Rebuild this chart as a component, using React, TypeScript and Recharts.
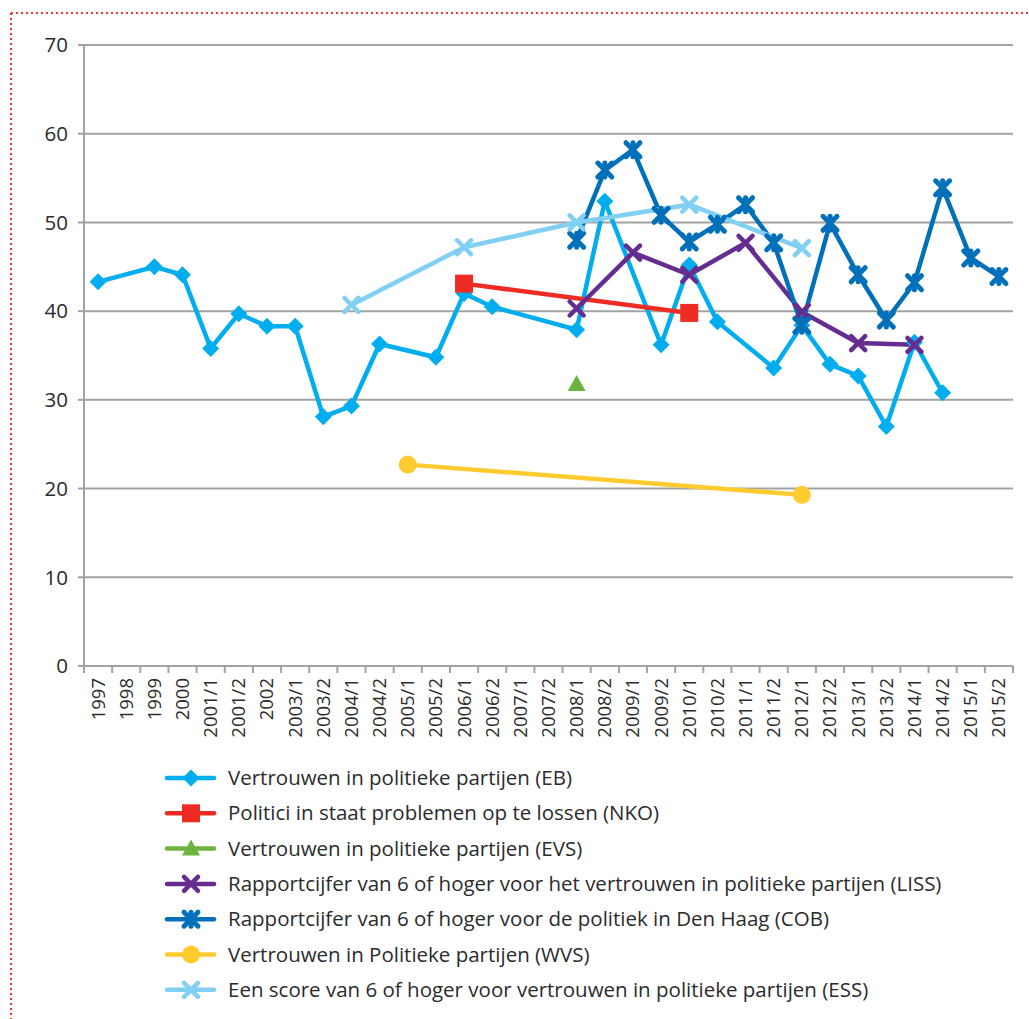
import { LineChart, Line, XAxis, YAxis, CartesianGrid } from "recharts";

// ─── DATA ────────────────────────────────────────────────────────────

const categories = [
  "1997", "1998", "1999", "2000", "2001/1", "2001/2", "2002", "2003/1",
  "2003/2", "2004/1", "2004/2", "2005/1", "2005/2", "2006/1", "2006/2",
  "2007/1", "2007/2", "2008/1", "2008/2", "2009/1", "2009/2", "2010/1",
  "2010/2", "2011/1", "2011/2", "2012/1", "2012/2", "2013/1", "2013/2",
  "2014/1", "2014/2", "2015/1", "2015/2",
];

const _ = null;

// Vertrouwen in politieke partijen (EB)
const ebValues = [
  43.3, _, 45.0, 44.1, 35.8, 39.7, 38.3, 38.3, 28.1, 29.3, 36.3, _, 34.8,
  42.0, 40.5, _, _, 37.9, 52.4, _, 36.2, 45.2, 38.8, _, 33.6, 38.4, 34.0,
  32.7, 27.0, 36.5, 30.8, _, _,
];

// Politici in staat problemen op te lossen (NKO)
const nkoValues = [
  _, _, _, _, _, _, _, _, _, _, _, _, _, 43.1, _, _, _, _, _, _, _, 39.8,
  _, _, _, _, _, _, _, _, _, _, _,
];

// Vertrouwen in politieke partijen (EVS)
const evsValues = [
  _, _, _, _, _, _, _, _, _, _, _, _, _, _, _, _, _, 31.8, _, _, _, _, _,
  _, _, _, _, _, _, _, _, _, _,
];

// Rapportcijfer ... vertrouwen in politieke partijen (LISS)
const lissValues = [
  _, _, _, _, _, _, _, _, _, _, _, _, _, _, _, _, _, 40.3, _, 46.6, _, 44.1,
  _, 47.7, _, 39.9, _, 36.4, _, 36.2, _, _, _,
];

// Rapportcijfer ... politiek in Den Haag (COB)
const cobValues = [
  _, _, _, _, _, _, _, _, _, _, _, _, _, _, _, _, _, 48.0, 55.9, 58.2, 50.8,
  47.8, 49.8, 52.0, 47.7, 38.4, 49.9, 44.1, 39.0, 43.2, 53.9, 46.0, 43.9,
];

// Vertrouwen in Politieke partijen (WVS)
const wvsValues = [
  _, _, _, _, _, _, _, _, _, _, _, 22.7, _, _, _, _, _, _, _, _, _, _, _, _,
  _, 19.3, _, _, _, _, _, _, _,
];

// Een score van 6 of hoger ... (ESS)
const essValues = [
  _, _, _, _, _, _, _, _, _, 40.7, _, _, _, 47.2, _, _, _, 50.0, _, _, _,
  52.0, _, _, _, 47.1, _, _, _, _, _, _, _,
];

const yTicks = [0, 10, 20, 30, 40, 50, 60, 70];

type MarkerKind = "diamond" | "square" | "triangle" | "cross" | "star" | "circle";

const series: { key: string; name: string; color: string; marker: MarkerKind; values: (number | null)[] }[] = [
  { key: "eb", name: "Vertrouwen in politieke partijen (EB)", color: "#00AEEF", marker: "diamond", values: ebValues },
  { key: "nko", name: "Politici in staat problemen op te lossen (NKO)", color: "#EE2C24", marker: "square", values: nkoValues },
  { key: "evs", name: "Vertrouwen in politieke partijen (EVS)", color: "#6DB33F", marker: "triangle", values: evsValues },
  { key: "liss", name: "Rapportcijfer van 6 of hoger voor het vertrouwen in politieke partijen (LISS)", color: "#662D91", marker: "cross", values: lissValues },
  { key: "cob", name: "Rapportcijfer van 6 of hoger voor de politiek in Den Haag (COB)", color: "#0070BA", marker: "star", values: cobValues },
  { key: "wvs", name: "Vertrouwen in Politieke partijen (WVS)", color: "#FFCB2F", marker: "circle", values: wvsValues },
  { key: "ess", name: "Een score van 6 of hoger voor vertrouwen in politieke partijen (ESS)", color: "#81D0F4", marker: "cross", values: essValues },
];

const chartData = categories.map((c, i) => {
  const row: Record<string, string | number | null> = { cat: c };
  series.forEach((s) => (row[s.key] = s.values[i]));
  return row;
});

// ─── LAYOUT ──────────────────────────────────────────────────────────

const W = 1029;
const H = 1019;
const PLOT_LEFT = 84;
const PLOT_RIGHT = 1013;
const HALF_BAND = (PLOT_RIGHT - PLOT_LEFT) / categories.length / 2;
const GRAY = "#A2A2A2";
const TEXT = "#2B2B2B";
const FONT = "'Open Sans', sans-serif";

function Marker({ kind, cx, cy, color }: { kind: MarkerKind; cx: number; cy: number; color: string }) {
  switch (kind) {
    case "diamond":
      return <path d={`M${cx},${cy - 8.5}L${cx + 8.5},${cy}L${cx},${cy + 8.5}L${cx - 8.5},${cy}Z`} fill={color} />;
    case "square":
      return <rect x={cx - 9} y={cy - 9} width={18} height={18} fill={color} />;
    case "triangle":
      return <path d={`M${cx},${cy - 9}L${cx + 9},${cy + 7}L${cx - 9},${cy + 7}Z`} fill={color} />;
    case "circle":
      return <circle cx={cx} cy={cy} r={9} fill={color} />;
    case "cross":
    case "star":
      return (
        <g stroke={color} strokeWidth={kind === "star" ? 5 : 4.5} strokeLinecap="round">
          <line x1={cx - 7} y1={cy - 7} x2={cx + 7} y2={cy + 7} />
          <line x1={cx - 7} y1={cy + 7} x2={cx + 7} y2={cy - 7} />
          {kind === "star" && <line x1={cx} y1={cy - 7} x2={cx} y2={cy + 7} />}
        </g>
      );
  }
}

function XTick(props: any) {
  const { x, y, payload } = props;
  const last = payload.index === categories.length - 1;
  return (
    <g>
      <line x1={x - HALF_BAND} y1={y} x2={x - HALF_BAND} y2={y + 7} stroke={GRAY} strokeWidth={2} />
      {last && <line x1={x + HALF_BAND} y1={y} x2={x + HALF_BAND} y2={y + 7} stroke={GRAY} strokeWidth={2} />}
      <text
        x={x}
        y={y + 12}
        dy="0.35em"
        textAnchor="end"
        transform={`rotate(-90, ${x}, ${y + 12})`}
        fill={TEXT}
        fontSize={18.5}
        fontFamily={FONT}
      >
        {payload.value}
      </text>
    </g>
  );
}

// ─── COMPONENT ───────────────────────────────────────────────────────

export default function App() {
  const legendTop = 778;
  const legendStep = 35.3;

  return (
    <div style={{ position: "absolute", left: 0, top: 0, width: W, height: H, background: "#fff" }}>
      <LineChart
        width={W}
        height={770}
        data={chartData}
        margin={{ top: 45, right: W - PLOT_RIGHT, left: 0, bottom: 0 }}
      >
        <CartesianGrid vertical={false} stroke={GRAY} strokeWidth={2} />
        <XAxis
          dataKey="cat"
          interval={0}
          height={770 - 45 - 621}
          padding={{ left: HALF_BAND, right: HALF_BAND }}
          axisLine={{ stroke: GRAY, strokeWidth: 2 }}
          tickLine={false}
          tickSize={0}
          tickMargin={0}
          tick={<XTick />}
        />
        <YAxis
          width={PLOT_LEFT}
          domain={[0, 70]}
          ticks={yTicks}
          interval={0}
          axisLine={{ stroke: GRAY, strokeWidth: 2 }}
          tickLine={{ stroke: GRAY, strokeWidth: 2 }}
          tickSize={6}
          tickMargin={10}
          tick={{ fill: TEXT, fontSize: 20.5, fontFamily: FONT }}
        />
        {series.map((s) => (
          <Line
            key={s.key}
            dataKey={s.key}
            name={s.name}
            stroke={s.color}
            strokeWidth={4.5}
            connectNulls
            isAnimationActive={false}
            dot={(p: any) =>
              p.cx == null || p.cy == null || p.value == null ? (
                <g key={p.key} />
              ) : (
                <Marker key={p.key} kind={s.marker} cx={p.cx} cy={p.cy} color={s.color} />
              )
            }
            activeDot={false}
          />
        ))}
      </LineChart>

      <svg width={W} height={H} style={{ position: "absolute", left: 0, top: 0, pointerEvents: "none" }}>
        {/* dotted frame */}
        <line x1={11} y1={13} x2={W} y2={13} stroke="#EE3333" strokeWidth={2} strokeDasharray="2 3" />
        <line x1={11} y1={13} x2={11} y2={H} stroke="#EE3333" strokeWidth={2} strokeDasharray="2 3" />

        {/* legend */}
        {series.map((s, i) => {
          const cy = legendTop + i * legendStep;
          return (
            <g key={s.key}>
              <line x1={167} y1={cy} x2={214} y2={cy} stroke={s.color} strokeWidth={4.5} strokeLinecap="round" />
              <Marker kind={s.marker} cx={191} cy={cy} color={s.color} />
              <text x={228} y={cy} dy="0.35em" fill={TEXT} fontSize={20.5} fontFamily={FONT}>
                {s.name}
              </text>
            </g>
          );
        })}
      </svg>
    </div>
  );
}
